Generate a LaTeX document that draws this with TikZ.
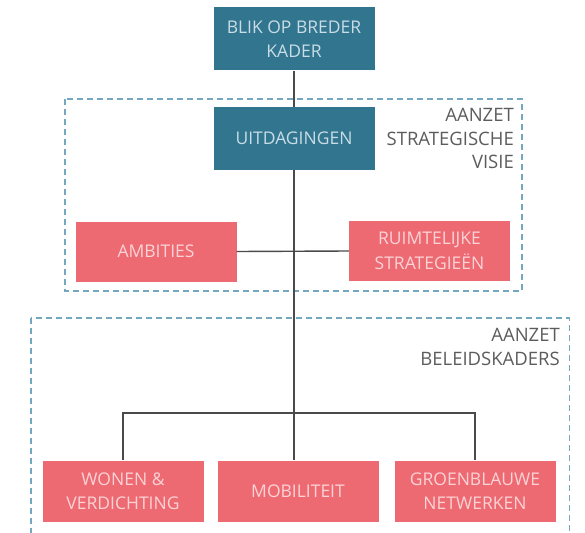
\documentclass[tikz,border=0pt]{standalone}
\usepackage{fontspec}
\setmainfont{Open Sans}
\usepackage{tikz}
\usetikzlibrary{calc}
\definecolor{boxteal}{HTML}{31758F}
\definecolor{boxred}{HTML}{EE6A72}
\definecolor{tealtext}{HTML}{C9DDE6}
\definecolor{redtext}{HTML}{FBD3D6}
\definecolor{framecol}{HTML}{74A8C0}
\definecolor{linegray}{HTML}{4A4A4A}
\definecolor{labelgray}{HTML}{5C5C5C}
\tikzset{%
  myedge/.style={draw=linegray, line width=1.4pt},
  bluenode/.style={rectangle, fill=boxteal, text=tealtext, minimum width=161pt,
    minimum height=63pt, inner sep=0pt, align=center, font=\fontsize{17.5}{24.5}\selectfont},
  rednode/.style={bluenode, fill=boxred, text=redtext, minimum height=60pt},
  myframe/.style={draw=framecol, line width=1.8pt, dash pattern=on 6pt off 4pt},
  mylabel/.style={text=labelgray, align=right, anchor=north east, inner sep=0pt,
    font=\fontsize{18.5}{23.5}\selectfont}
}

\begin{document}
\begin{tikzpicture}[x=1pt, y=-1pt]
  \useasboundingbox (0,0) rectangle (585,532);
  \clip (0,0) rectangle (585,532);

% kaders
\draw [myframe] (64.7,98.7) rectangle (521.7,290.7);
\draw [myframe] (30.7,318) rectangle (569.5,560);

\node [mylabel] (lblvisie) at (514,108.5) {AANZET\\STRATEGISCHE\\VISIE};
\node [mylabel] (lblbeleid) at (560,328.5) {AANZET\\BELEIDSKADERS};

\node [bluenode] (blik) at (294,39) {BLIK OP BREDER\\KADER};
\node [bluenode] (uitd) at (294,138.5) {UITDAGINGEN};

\node [rednode] (ambities) at (156,251.5) {AMBITIES};
\node [rednode] (ruimt) at (429.5,251) {RUIMTELIJKE\\STRATEGIEËN};

\node [rednode, minimum height=61pt] (wonen) at (123,491) {WONEN \&\\VERDICHTING};
\node [rednode, minimum height=61pt] (mobil) at (298,491) {MOBILITEIT};
\node [rednode, minimum height=61pt] (groen) at (475,491) {GROENBLAUWE\\NETWERKEN};

\coordinate (split) at (293,413);

% lijnen
\draw [myedge] (blik.south) -- (uitd.north);
\draw [myedge] (uitd.south) -- (uitd.south |- mobil.north);
\draw [myedge] (ambities.east) -- (ruimt.west);
\draw [myedge] (wonen.north) |- (split) -| (groen.north);
\end{tikzpicture}
\end{document}
